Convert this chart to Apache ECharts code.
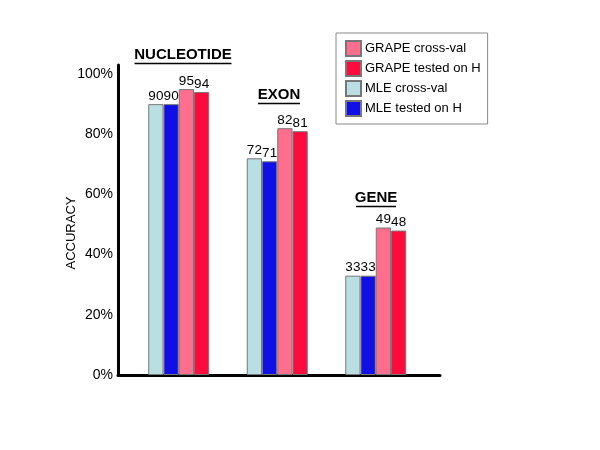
<!DOCTYPE html>
<html><head><meta charset="utf-8">
<script src="https://cdn.jsdelivr.net/npm/echarts@6/dist/echarts.min.js"></script>
<style>html,body{margin:0;padding:0;background:#fff}#c{width:600px;height:450px}</style>
</head><body><div id="c"></div>
<script>
const categories = ['NUCLEOTIDE', 'EXON', 'GENE'];
const mleCross = [90, 72, 33];
const mleH = [90, 71, 33];
const grapeCross = [95, 82, 49];
const grapeH = [94, 81, 48];
const yTicks = [0, 20, 40, 60, 80, 100];

const FONT = 'Arial, "Liberation Sans", sans-serif';
const chart = echarts.init(document.getElementById('c'), null, {renderer: 'canvas'});

function bar(name, data, color) {
  return {
    name, type: 'bar', data, xAxisIndex: 1, yAxisIndex: 1,
    barWidth: 15.25, barGap: '0%',
    itemStyle: {color, borderColor: '#777', borderWidth: 1},
    label: {show: true, position: 'top', distance: 1, color: '#000', fontSize: 13.5, fontFamily: FONT,
            formatter: p => String(p.value)}
  };
}

function title(text, cx, cy, w) {
  return {
    type: 'group', children: [
      {type: 'text', x: cx, y: cy, style: {text, fill: '#000', font: 'bold 15px ' + FONT, align: 'center', verticalAlign: 'middle'}},
      {type: 'line', shape: {x1: cx - w / 2, y1: cy + 8.5, x2: cx + w / 2, y2: cy + 8.5}, style: {stroke: '#000', lineWidth: 1.5}}
    ]
  };
}

chart.setOption({
  animation: false,
  backgroundColor: '#fff',
  grid: [
    {left: 118, right: 160, top: 65, bottom: 75},
    {left: 129.5, width: 295.5, top: 65, bottom: 75}
  ],
  xAxis: [
    {type: 'category', gridIndex: 0, data: categories, axisLine: {lineStyle: {color: '#000', width: 3}},
     axisTick: {show: false}, axisLabel: {show: false}, splitLine: {show: false}},
    {type: 'category', gridIndex: 1, data: categories, axisLine: {show: false},
     axisTick: {show: false}, axisLabel: {show: false}, splitLine: {show: false}}
  ],
  yAxis: [
    {type: 'value', gridIndex: 0, min: 0, max: 103, interval: 20,
     axisLine: {show: true, lineStyle: {color: '#000', width: 3}}, axisTick: {show: false},
     splitLine: {show: false},
     axisLabel: {color: '#000', fontSize: 14, fontFamily: FONT, margin: 5,
                 formatter: v => yTicks.includes(v) ? v + '%' : ''},
     name: 'ACCURACY', nameLocation: 'middle', nameGap: 40, nameRotate: 90, nameMoveOverlap: false,
     nameTextStyle: {color: '#000', fontSize: 13, fontFamily: FONT, padding: [0, 26, 0, 0]}},
    {type: 'value', gridIndex: 1, min: 0, max: 103, show: false}
  ],
  legend: {
    orient: 'vertical', left: 336, top: 33,
    data: ['GRAPE cross-val', 'GRAPE tested on H', 'MLE cross-val', 'MLE tested on H'],
    itemWidth: 15, itemHeight: 15, itemGap: 3,
    padding: [7, 7, 7, 9], borderColor: '#888', borderWidth: 1,
    icon: 'rect',
    textStyle: {color: '#000', fontSize: 13, fontFamily: FONT, padding: [0, 0, 0, -1]}
  },
  series: [
    bar('MLE cross-val', mleCross, '#B9DFE3'),
    bar('MLE tested on H', mleH, '#1010E6'),
    bar('GRAPE cross-val', grapeCross, '#FF6E8C'),
    bar('GRAPE tested on H', grapeH, '#FF0A3C')
  ],
  graphic: [
    title('NUCLEOTIDE', 183, 55, 97),
    title('EXON', 279, 95, 42),
    title('GENE', 376, 198, 40)
  ]
});
</script></body></html>
